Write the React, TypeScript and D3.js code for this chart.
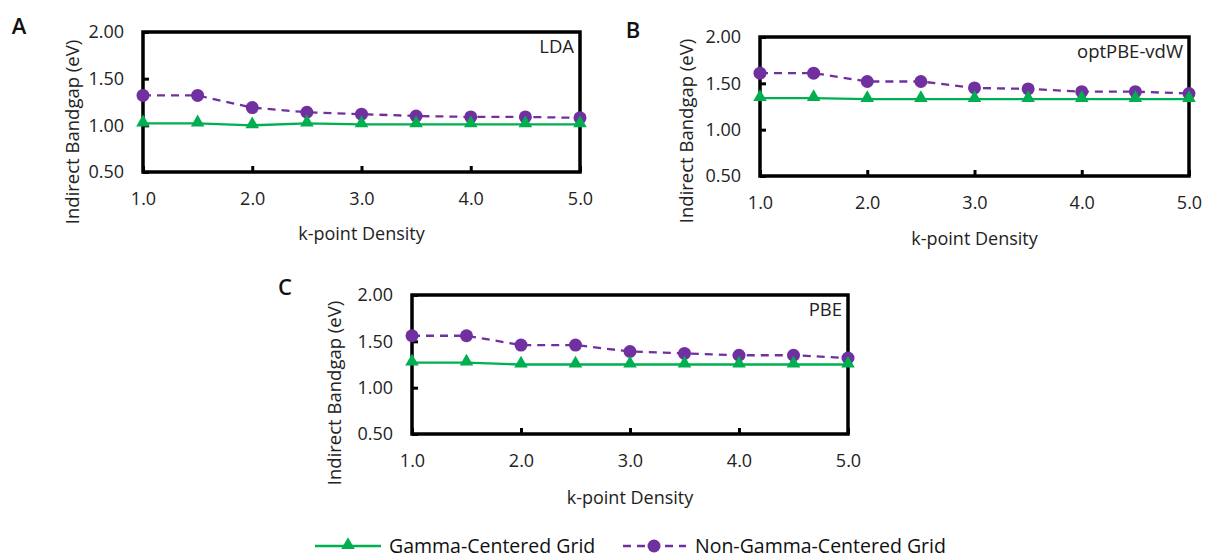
import React, { useRef, useEffect } from "react";
import * as d3 from "d3";

const kDensity = [1.0, 1.5, 2.0, 2.5, 3.0, 3.5, 4.0, 4.5, 5.0];
const xTicks = [1.0, 2.0, 3.0, 4.0, 5.0];
const yTicks = [0.5, 1.0, 1.5, 2.0];

const ldaGamma = [1.02, 1.02, 1.0, 1.02, 1.01, 1.01, 1.01, 1.01, 1.01];
const ldaNonGamma = [1.32, 1.32, 1.19, 1.14, 1.12, 1.1, 1.09, 1.09, 1.08];
const optGamma = [1.34, 1.34, 1.33, 1.33, 1.33, 1.33, 1.33, 1.33, 1.33];
const optNonGamma = [1.61, 1.61, 1.52, 1.52, 1.45, 1.44, 1.41, 1.41, 1.39];
const pbeGamma = [1.27, 1.27, 1.25, 1.25, 1.25, 1.25, 1.25, 1.25, 1.25];
const pbeNonGamma = [1.56, 1.56, 1.46, 1.46, 1.39, 1.37, 1.35, 1.35, 1.32];

const panels = [
  { letter: "A", name: "LDA", gamma: ldaGamma, non: ldaNonGamma,
    box: { l: 143, t: 32, r: 580, b: 172 }, letterPos: [19, 25], yTitleX: 72, yTitleY: 132, xTitleY: 233 },
  { letter: "B", name: "optPBE-vdW", gamma: optGamma, non: optNonGamma,
    box: { l: 760, t: 37, r: 1189, b: 176 }, letterPos: [633, 29], yTitleX: 686, yTitleY: 131, xTitleY: 238 },
  { letter: "C", name: "PBE", gamma: pbeGamma, non: pbeNonGamma,
    box: { l: 412, t: 295, r: 848, b: 434 }, letterPos: [285, 286], yTitleX: 334, yTitleY: 393, xTitleY: 497 },
];

const GREEN = "#00b050";
const PURPLE = "#7030a0";
const FONT = "'Open Sans', 'Liberation Sans', sans-serif";

function App() {
  const svgRef = useRef(null);

  useEffect(() => {
    const width = 1211;
    const height = 559;
    const svg = d3.select(svgRef.current)
      .attr("width", width)
      .attr("height", height);
    svg.selectAll("*").remove();

    const tri = d3.symbol().type(d3.symbolTriangle).size(80);

    panels.forEach(p => {
      const { l, t, r, b } = p.box;
      const x = d3.scaleLinear().domain([1, 5]).range([l, r]);
      const y = d3.scaleLinear().domain([0.5, 2]).range([b, t]);
      const g = svg.append("g");

      // axes, ticks point inward
      const xa = g.append("g")
        .attr("transform", `translate(0,${b})`)
        .call(d3.axisBottom(x).tickValues(xTicks).tickSize(-6).tickPadding(20).tickFormat(d3.format(".1f")));
      const ya = g.append("g")
        .attr("transform", `translate(${l},0)`)
        .call(d3.axisLeft(y).tickValues(yTicks).tickSize(-6).tickPadding(19).tickFormat(d3.format(".2f")));
      [xa, ya].forEach(a => {
        a.select(".domain").remove();
        a.selectAll("line").attr("stroke", "#000").attr("stroke-width", 3);
        a.selectAll("text").attr("font-family", FONT).attr("font-size", 18).attr("fill", "#222");
      });

      // plot border
      g.append("rect")
        .attr("x", l).attr("y", t)
        .attr("width", r - l).attr("height", b - t)
        .attr("fill", "none").attr("stroke", "#000").attr("stroke-width", 3.5);

      const line = d3.line<number>()
        .x((d, i) => x(kDensity[i]))
        .y(d => y(d));

      g.append("path")
        .datum(p.non)
        .attr("d", line)
        .attr("fill", "none")
        .attr("stroke", PURPLE)
        .attr("stroke-width", 2.3)
        .attr("stroke-dasharray", "8,6");

      g.append("path")
        .datum(p.gamma)
        .attr("d", line)
        .attr("fill", "none")
        .attr("stroke", GREEN)
        .attr("stroke-width", 2.3);

      g.selectAll(".circ")
        .data(p.non)
        .enter()
        .append("circle")
        .attr("cx", (d, i) => x(kDensity[i]))
        .attr("cy", d => y(d))
        .attr("r", 6.5)
        .attr("fill", PURPLE);

      g.selectAll(".tri")
        .data(p.gamma)
        .enter()
        .append("path")
        .attr("d", tri)
        .attr("transform", (d, i) => `translate(${x(kDensity[i])},${y(d) - 1})`)
        .attr("fill", GREEN);

      // method label
      g.append("text")
        .attr("x", r - 6)
        .attr("y", t + 21)
        .attr("text-anchor", "end")
        .attr("font-family", FONT)
        .attr("font-size", 18.5)
        .attr("fill", "#222")
        .text(p.name);

      // axis titles
      g.append("text")
        .attr("x", (l + r) / 2)
        .attr("y", p.xTitleY + 6.5)
        .attr("text-anchor", "middle")
        .attr("font-family", FONT)
        .attr("font-size", 18)
        .attr("fill", "#222")
        .text("k-point Density");

      g.append("text")
        .attr("transform", `translate(${p.yTitleX + 6.5},${p.yTitleY}) rotate(-90)`)
        .attr("text-anchor", "middle")
        .attr("font-family", FONT)
        .attr("font-size", 18.5)
        .attr("fill", "#222")
        .text("Indirect Bandgap (eV)");

      // panel letter
      g.append("text")
        .attr("x", p.letterPos[0])
        .attr("y", p.letterPos[1] + 8.5)
        .attr("text-anchor", "middle")
        .attr("font-family", FONT)
        .attr("font-size", 22)
        .attr("font-weight", 600)
        .attr("fill", "#111")
        .text(p.letter);
    });

    // LEGEND
    const ly = 546;
    const leg = svg.append("g");
    leg.append("line")
      .attr("x1", 315).attr("x2", 381).attr("y1", ly).attr("y2", ly)
      .attr("stroke", GREEN).attr("stroke-width", 2.3);
    leg.append("path")
      .attr("d", tri)
      .attr("transform", `translate(348,${ly - 1})`)
      .attr("fill", GREEN);
    leg.append("text")
      .attr("x", 389).attr("y", ly + 6.5)
      .attr("font-family", FONT).attr("font-size", 19.5).attr("fill", "#111")
      .text("Gamma-Centered Grid");

    leg.append("line")
      .attr("x1", 623).attr("x2", 686).attr("y1", ly).attr("y2", ly)
      .attr("stroke", PURPLE).attr("stroke-width", 2.3)
      .attr("stroke-dasharray", "8,6");
    leg.append("circle")
      .attr("cx", 654).attr("cy", ly).attr("r", 6.5)
      .attr("fill", PURPLE);
    leg.append("text")
      .attr("x", 695).attr("y", ly + 6.5)
      .attr("font-family", FONT).attr("font-size", 19.5).attr("fill", "#111")
      .text("Non-Gamma-Centered Grid");
  }, []);

  return (
    <svg ref={svgRef} style={{ position: "absolute", left: 0, top: 0, background: "#fff" }}></svg>
  );
}

export default App;
